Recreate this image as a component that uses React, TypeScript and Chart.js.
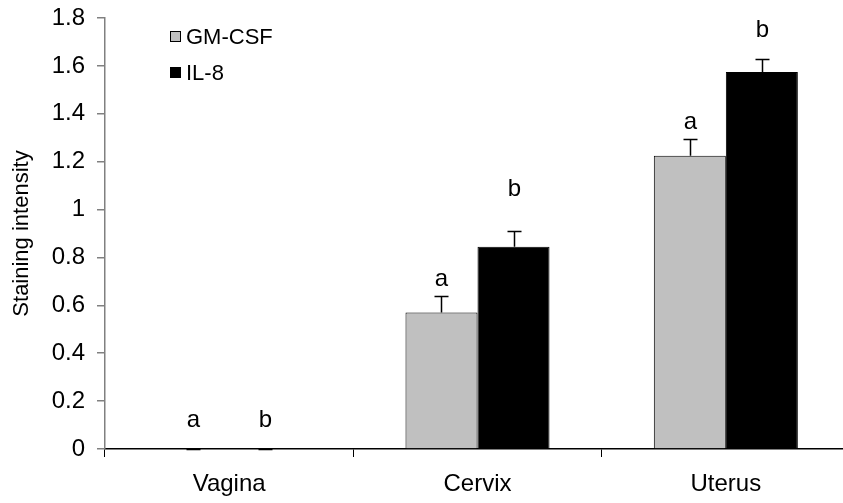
import React, { useEffect, useRef } from "react";
import { Chart, registerables } from "chart.js";

Chart.register(...registerables);

// Tissue sites and mean staining scores
const categories = ["Vagina", "Cervix", "Uterus"];
const gmcsfValues = [0, 0.57, 1.225];
const il8Values = [0, 0.845, 1.575];
// Upper error (SEM)
const gmcsfErrors = [0, 0.07, 0.07];
const il8Errors = [0, 0.065, 0.055];
// Significance letters and the value level at which each letter sits
const gmcsfLetters = ["a", "a", "a"];
const il8Letters = ["b", "b", "b"];
const gmcsfLetterLevel = [0.09, 0.68, 1.337];
const il8LetterLevel = [0.09, 1.057, 1.722];
// Y axis tick labels
const yTickLabels = ["0", "0.2", "0.4", "0.6", "0.8", "1", "1.2", "1.4", "1.6", "1.8"];

const FONT = "'Liberation Sans', Arial, sans-serif";

const annotate = {
  id: "annotate",
  afterDatasetsDraw(chart: any) {
    const ctx = chart.ctx as CanvasRenderingContext2D;
    const y = chart.scales.y;
    const series = [
      { err: gmcsfErrors, letters: gmcsfLetters, level: gmcsfLetterLevel, vals: gmcsfValues },
      { err: il8Errors, letters: il8Letters, level: il8LetterLevel, vals: il8Values },
    ];
    ctx.save();
    series.forEach((s, di) => {
      const meta = chart.getDatasetMeta(di);
      meta.data.forEach((bar: any, i: number) => {
        const x = Math.round(bar.x) + 0.5;
        const yBase = y.getPixelForValue(s.vals[i]);
        const yTop = Math.round(y.getPixelForValue(s.vals[i] + s.err[i])) + 0.5;
        ctx.strokeStyle = "#000";
        ctx.lineWidth = 1.5;
        ctx.beginPath();
        ctx.moveTo(x, yBase);
        ctx.lineTo(x, yTop);
        ctx.moveTo(x - 7, yTop);
        ctx.lineTo(x + 7, yTop);
        ctx.stroke();
        ctx.fillStyle = "#000";
        ctx.font = `24px ${FONT}`;
        ctx.textAlign = "center";
        ctx.textBaseline = "alphabetic";
        ctx.fillText(s.letters[i], x, y.getPixelForValue(s.level[i]));
      });
    });

    // Legend
    const items = [
      { label: "GM-CSF", color: "#C0C0C0" },
      { label: "IL-8", color: "#000000" },
    ];
    ctx.font = `22px ${FONT}`;
    ctx.textAlign = "left";
    ctx.textBaseline = "middle";
    items.forEach((it, k) => {
      const cy = 37 + k * 36;
      ctx.fillStyle = it.color;
      ctx.fillRect(170.5, cy - 5.5, 10, 10);
      ctx.strokeStyle = "#000";
      ctx.lineWidth = 1;
      ctx.strokeRect(170.5, cy - 5.5, 10, 10);
      ctx.fillStyle = "#000";
      ctx.fillText(it.label, 186, cy + 1);
    });
    ctx.restore();
  },
};

export default function App() {
  const canvasRef = useRef<HTMLCanvasElement | null>(null);

  useEffect(() => {
    document.body.style.margin = "0";
    const canvas = canvasRef.current;
    if (!canvas) return;
    const chart = new Chart(canvas, {
      type: "bar",
      data: {
        labels: categories,
        datasets: [
          {
            label: "GM-CSF",
            data: gmcsfValues,
            backgroundColor: "#C0C0C0",
            borderColor: "#000",
            borderWidth: 1,
            barPercentage: 1,
            categoryPercentage: 0.58,
          },
          {
            label: "IL-8",
            data: il8Values,
            backgroundColor: "#000",
            borderColor: "#000",
            borderWidth: 1,
            barPercentage: 1,
            categoryPercentage: 0.58,
          },
        ],
      },
      options: {
        animation: false,
        responsive: false,
        maintainAspectRatio: false,
        layout: { padding: { top: 18, left: 0, right: 0, bottom: 0 } },
        plugins: {
          legend: { display: false },
          tooltip: { enabled: false },
        },
        scales: {
          x: {
            offset: true,
            grid: {
              offset: true,
              drawOnChartArea: false,
              drawTicks: true,
              tickLength: 8,
              color: "#000",
              lineWidth: 1,
            },
            border: { color: "#000", width: 1.5 },
            ticks: {
              color: "#000",
              font: { family: FONT, size: 24 },
              padding: 13,
            },
            afterFit(scale: any) {
              scale.height = 54;
              scale.paddingLeft = 0;
              scale.paddingRight = 0;
            },
          },
          y: {
            min: 0,
            max: 1.8,
            grid: {
              drawOnChartArea: false,
              drawTicks: true,
              tickLength: 8,
              color: "#808080",
              lineWidth: 1.5,
            },
            border: { color: "#808080", width: 1.5 },
            ticks: {
              stepSize: 0.2,
              color: "#000",
              font: { family: FONT, size: 24 },
              padding: 12,
              callback: (_v: any, i: number) => yTickLabels[i],
            },
            title: {
              display: true,
              text: "Staining intensity",
              color: "#000",
              font: { family: FONT, size: 22 },
              padding: { top: 9, bottom: 0 },
            },
            afterFit(scale: any) {
              scale.width = 105;
              scale.paddingTop = 0;
              scale.paddingBottom = 0;
            },
          },
        },
      },
      plugins: [annotate],
    });
    return () => chart.destroy();
  }, []);

  return (
    <div style={{ width: 843, height: 503, overflow: "hidden", position: "relative" }}>
      <canvas ref={canvasRef} width={850} height={503} style={{ display: "block" }} />
    </div>
  );
}
